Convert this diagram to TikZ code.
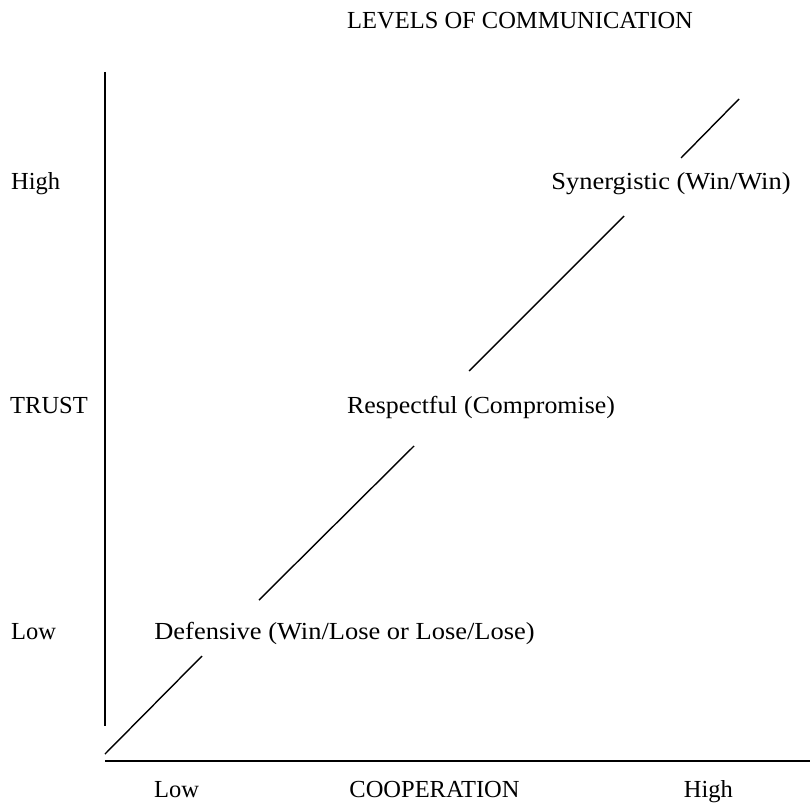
\documentclass[tikz,border=0pt]{standalone}
\usepackage{fontspec}
\setmainfont{Liberation Serif}
\begin{document}
\begin{tikzpicture}[x=1pt,y=-1pt,
  lbl/.style={inner sep=0pt,font=\fontsize{24.5}{29}\selectfont},
  axis/.style={line width=1.6pt},
  diag/.style={line width=1.4pt}]
\useasboundingbox (0,0) rectangle (810,802);
% labels
\node[lbl,anchor=base west] (title) at (347,29) {LEVELS OF COMMUNICATION};
\node[lbl,anchor=base west] (thigh) at (11,190) {High};
\node[lbl,anchor=base west] (trust) at (10,413) {TRUST};
\node[lbl,anchor=base west] (tlow) at (11,639) {Low};
\node[lbl,anchor=base] (syn) at (671,190) {\scalebox{1.08}[1]{Synergistic (Win/Win)}};
\node[lbl,anchor=base] (resp) at (481,413) {\scalebox{1.055}[1]{Respectful (Compromise)}};
\node[lbl,anchor=base] (def) at (344.5,639) {\scalebox{1.08}[1]{Defensive (Win/Lose or Lose/Lose)}};
\node[lbl,anchor=base west] (clow) at (154,797) {Low};
\node[lbl,anchor=base] (coop) at (434.5,797) {COOPERATION};
\node[lbl,anchor=base east] (chigh) at (733,797) {High};
% axes
\coordinate (vtop) at (105,72);
\coordinate (vbot) at (105,726);
\coordinate (hleft) at (105,761);
\coordinate (hright) at (810,761);
\draw[axis] (vtop) -- (vbot);
\draw[axis] (hleft) -- (hright);
% diagonal segments
\coordinate (d1a) at (105,754); \coordinate (d1b) at (202,656);
\coordinate (d2a) at (259,600); \coordinate (d2b) at (414,446);
\coordinate (d3a) at (469,371); \coordinate (d3b) at (624,216);
\coordinate (d4a) at (681,158); \coordinate (d4b) at (739,99);
\draw[diag] (d1a) -- (d1b);
\draw[diag] (d2a) -- (d2b);
\draw[diag] (d3a) -- (d3b);
\draw[diag] (d4a) -- (d4b);
\end{tikzpicture}
\end{document}
